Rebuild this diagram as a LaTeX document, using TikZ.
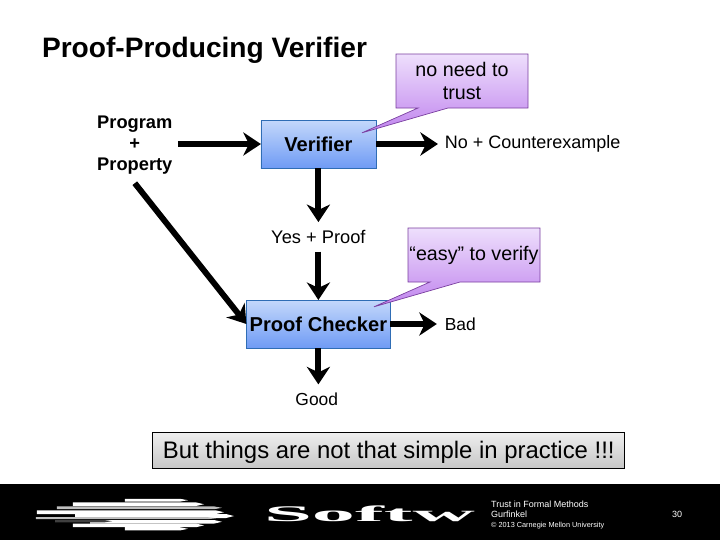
\documentclass[tikz,border=0pt]{standalone}
\usepackage{fontspec}
\usepackage{tikz}
\usepackage{xcolor}
\setmainfont{Liberation Sans}
\newfontfamily\logofont{Liberation Serif}
\usetikzlibrary{positioning, arrows.meta, calc}
\definecolor{Box_Top}{HTML}{C4D8FB}
\definecolor{Box_Bottom}{HTML}{6F9BF5}
\definecolor{Box_Line}{HTML}{2F6DB5}
\definecolor{Note_Top}{HTML}{EEDFFC}
\definecolor{Note_Bottom}{HTML}{C084EE}
\definecolor{Note_Line}{HTML}{7A3FA0}
\definecolor{Banner_Top}{HTML}{EFEFEF}
\definecolor{Banner_Bottom}{HTML}{C6C6C6}

\begin{document}
\begin{tikzpicture}[
  every node/.style={inner sep=0pt, outer sep=0pt, align=center},
  lbl/.style={font=\fontsize{12.4}{15.2}\selectfont},
  pbox/.style={draw=Box_Line, line width=0.5pt, top color=Box_Top, bottom color=Box_Bottom, minimum height=1.2cm, font=\fontsize{14.3}{17}\selectfont\bfseries},
  note/.style={minimum width=3.3cm, minimum height=1.35cm},
  notetext/.style={font=\fontsize{14}{17}\selectfont},
  noteshape/.style={draw=Note_Line, line width=0.5pt, top color=Note_Top, bottom color=Note_Bottom},
  arr/.style={-{Stealth[length=0.44cm, width=0.58cm, inset=0.14cm]}, line width=4.2pt, black},
  foot/.style={text=white, anchor=west, font=\fontsize{6.4}{7}\selectfont}
]
  \useasboundingbox (0,0) rectangle (18,-13.5);

  % Footer
  \fill[black] (0,-12.1) rectangle (18,-13.5);
  \foreach \xa/\xb/\ya/\th/\shade in {3.12/4.5/-12.47/0.07/white, 1.82/4.9/-12.56/0.09/white, 1.42/5.35/-12.66/0.07/lightgray, 0.92/5.4/-12.76/0.09/white, 1.88/5.65/-12.85/0.1/white, 0.9/5.2/-12.93/0.05/lightgray, 2.25/5.35/-13.0/0.09/white, 1.38/2.6/-13.0/0.06/darkgray, 1.82/4.9/-13.09/0.09/white, 3.12/4.5/-13.18/0.08/white} {
    \fill[\shade] (\xa,\ya) -- (\xb,\ya) -- (\xb+0.2,\ya-\th/2) -- (\xb,\ya-\th) -- (\xa,\ya-\th) -- cycle;
  }
  \node[foot, font=\logofont\bfseries\fontsize{26}{26}\selectfont, xscale=2.36, yscale=0.61] (logo) at (6.6,-12.84) {Softw};
  \node[foot] (course) at (12.28,-12.6) {Trust in Formal Methods};
  \node[foot, below=0.1cm of course.south west, anchor=north west] (speaker) {Gurfinkel};
  \node[foot, font=\fontsize{5.2}{6}\selectfont, below=0.1cm of speaker.south west, anchor=north west] (copy) {© 2013 Carnegie Mellon University};
  \node[foot] (pagenum) at (16.8,-12.85) {30};

  % Title and input
  \node[font=\fontsize{20}{24}\selectfont\bfseries, anchor=west] (title) at (1.05,-1.25) {Proof-Producing Verifier};
  \node[font=\fontsize{13}{15.2}\selectfont\bfseries] (input) at (3.37,-3.63) {Program\\+\\Property};
  \coordinate (diagStart) at (3.37,-4.58);

  % Main boxes
  \node[pbox, minimum width=2.875cm] (verifier) at (7.96,-3.6) {Verifier};
  \node[pbox, minimum width=3.6cm] (checker) at (7.96,-8.1) {Proof Checker};

  % Outcomes
  \node[lbl, font=\fontsize{13}{15}\selectfont] (yes) at (7.96,-5.92) {Yes + Proof};
  \node[lbl, font=\fontsize{12.8}{15}\selectfont, anchor=west] (no) at (11.12,-3.6) {No + Counterexample};
  \node[lbl, anchor=west] (bad) at (11.12,-8.1) {Bad};
  \node[lbl] (good) at (7.92,-9.97) {Good};

  % Connections
  \draw[arr] ($(input.east |- verifier.west)+(0.14,0)$) -- (verifier.west);
  \draw[arr] (verifier.east) -- ($(no.west)+(-0.17,0)$);
  \draw[arr] (verifier.south) -- ($(yes.north)+(0,0.2)$);
  \draw[arr] ($(yes.south)+(0,-0.2)$) -- (checker.north);
  \draw[arr] (diagStart) -- (checker.west);
  \draw[arr] (checker.east) -- ($(bad.west)+(-0.2,0)$);
  \draw[arr] (checker.south) -- ($(checker.south |- good.north)+(0,0.2)$);

  % Notes
  \node[note] (trustBox) at (11.55,-2.025) {};
  \node[note] (easyBox) at (11.85,-6.375) {};
  \coordinate (trustTip) at (9.05,-3.32);
  \coordinate (easyTip) at (9.35,-7.67);
  \path[noteshape] (trustBox.north west) -- (trustBox.north east) -- (trustBox.south east) -- ($(trustBox.south west)+(1.3,0)$) -- (trustTip) -- ($(trustBox.south west)+(0.55,0)$) -- (trustBox.south west) -- cycle;
  \path[noteshape] (easyBox.north west) -- (easyBox.north east) -- (easyBox.south east) -- ($(easyBox.south west)+(1.3,0)$) -- (easyTip) -- ($(easyBox.south west)+(0.55,0)$) -- (easyBox.south west) -- cycle;
  \node[notetext] (trust) at (trustBox) {no need to\\trust};
  \node[notetext] (easy) at (easyBox) {“easy” to verify};

  % Banner
  \node[draw=black, line width=0.7pt, top color=Banner_Top, bottom color=Banner_Bottom, minimum width=11.8cm, minimum height=0.92cm, text height=0.5cm, text depth=0.09cm, font=\fontsize{17}{20}\selectfont] (banner) at (9.72,-11.26) {But things are not that simple in practice !!!};
\end{tikzpicture}
\end{document}
